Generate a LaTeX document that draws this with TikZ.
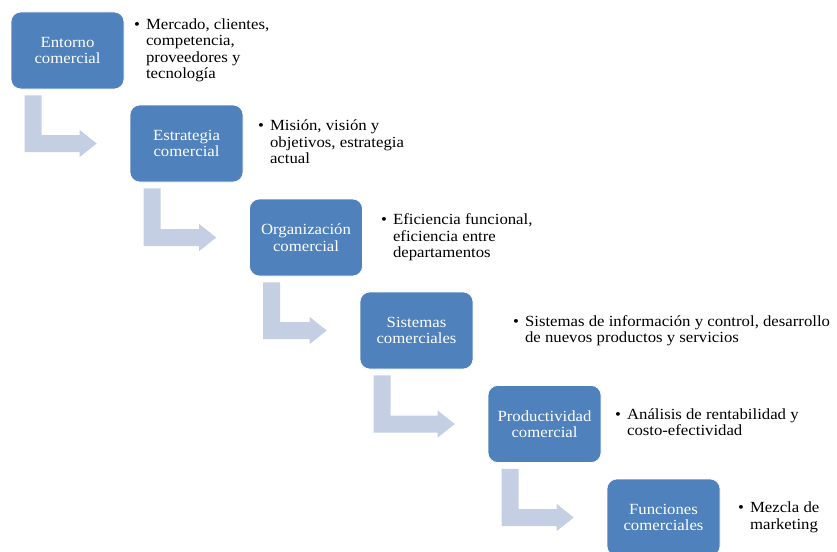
\documentclass[tikz,border=0pt]{standalone}
\usepackage{fontspec}
\setmainfont{Liberation Serif}[FakeStretch=1.08]
\usepackage{xcolor}
\usepackage{tikz}
\usetikzlibrary{calc}
\usetikzlibrary{shapes}

\definecolor{azulcaja}{HTML}{4F81BD}
\definecolor{azulflecha}{HTML}{C5CFE3}

\tikzset{
  caja/.style={rectangle,rounded corners=10pt,fill=azulcaja,draw=white,line width=0.6pt,
    minimum width=113pt,minimum height=77pt,text=white,align=center,
    font=\fontsize{15.5}{16.5}\selectfont},
  nota/.style={anchor=west,inner sep=0pt,font=\fontsize{15.5}{16.5}\selectfont},
  flecha/.style={fill=azulflecha}
}
\newcommand{\punto}[1]{\begin{tabular}{@{}l@{\hspace{6pt}}l@{}}\textbullet & #1\end{tabular}}

\begin{document}
\begin{tikzpicture}[x=1pt,y=-1pt]
    \useasboundingbox (0,0) rectangle (837,551);
    \draw[] (67.5,50.5) node[caja] (Ent) {Entorno\\comercial};
    \draw[] (186.5,143.5) node[caja] (Est) {Estrategia\\comercial};
    \draw[] (306,237.5) node[caja] (Org) {Organización\\comercial};
    \draw[] (416.5,330.5) node[caja] (Sis) {Sistemas\\comerciales};
    \draw[] (544.5,424) node[caja] (Pro) {Productividad\\comercial};
    \draw[] (663.5,517.5) node[caja] (Fun) {Funciones\\comerciales};

    \draw[] (134,50.5) node[nota] (tEnt) {\punto{Mercado, clientes,\\ & competencia,\\ & proveedores y\\ & tecnología}};
    \draw[] (258,144) node[nota] (tEst) {\punto{Misión, visión y\\ & objetivos, estrategia\\ & actual}};
    \draw[] (381,238) node[nota] (tOrg) {\punto{Eficiencia funcional,\\ & eficiencia entre\\ & departamentos}};
    \draw[] (513,331) node[nota] (tSis) {\punto{Sistemas de información y control, desarrollo\\ & de nuevos productos y servicios}};
    \draw[] (615,424) node[nota] (tPro) {\punto{Análisis de rentabilidad y\\ & costo-efectividad}};
    \draw[] (738,517.5) node[nota] (tFun) {\punto{Mezcla de\\ & marketing}};

    % flechas dobladas entre cajas
    \foreach \a/\b in {Ent/Est,Est/Org,Org/Sis,Sis/Pro,Pro/Fun}{
      \fill[flecha] ($(\a.south west)+(14,6)$) -- ($(\a.south west)+(31,6)$)
        |- ($(\b.west)+(-50,-8.5)$) -- ($(\b.west)+(-50,-13.5)$)
        -- ($(\b.west)+(-33,0)$) -- ($(\b.west)+(-50,13.5)$)
        -- ($(\b.west)+(-50,8.5)$) -| ($(\a.south west)+(14,6)$) -- cycle;
    }
  \end{tikzpicture}
\end{document}
